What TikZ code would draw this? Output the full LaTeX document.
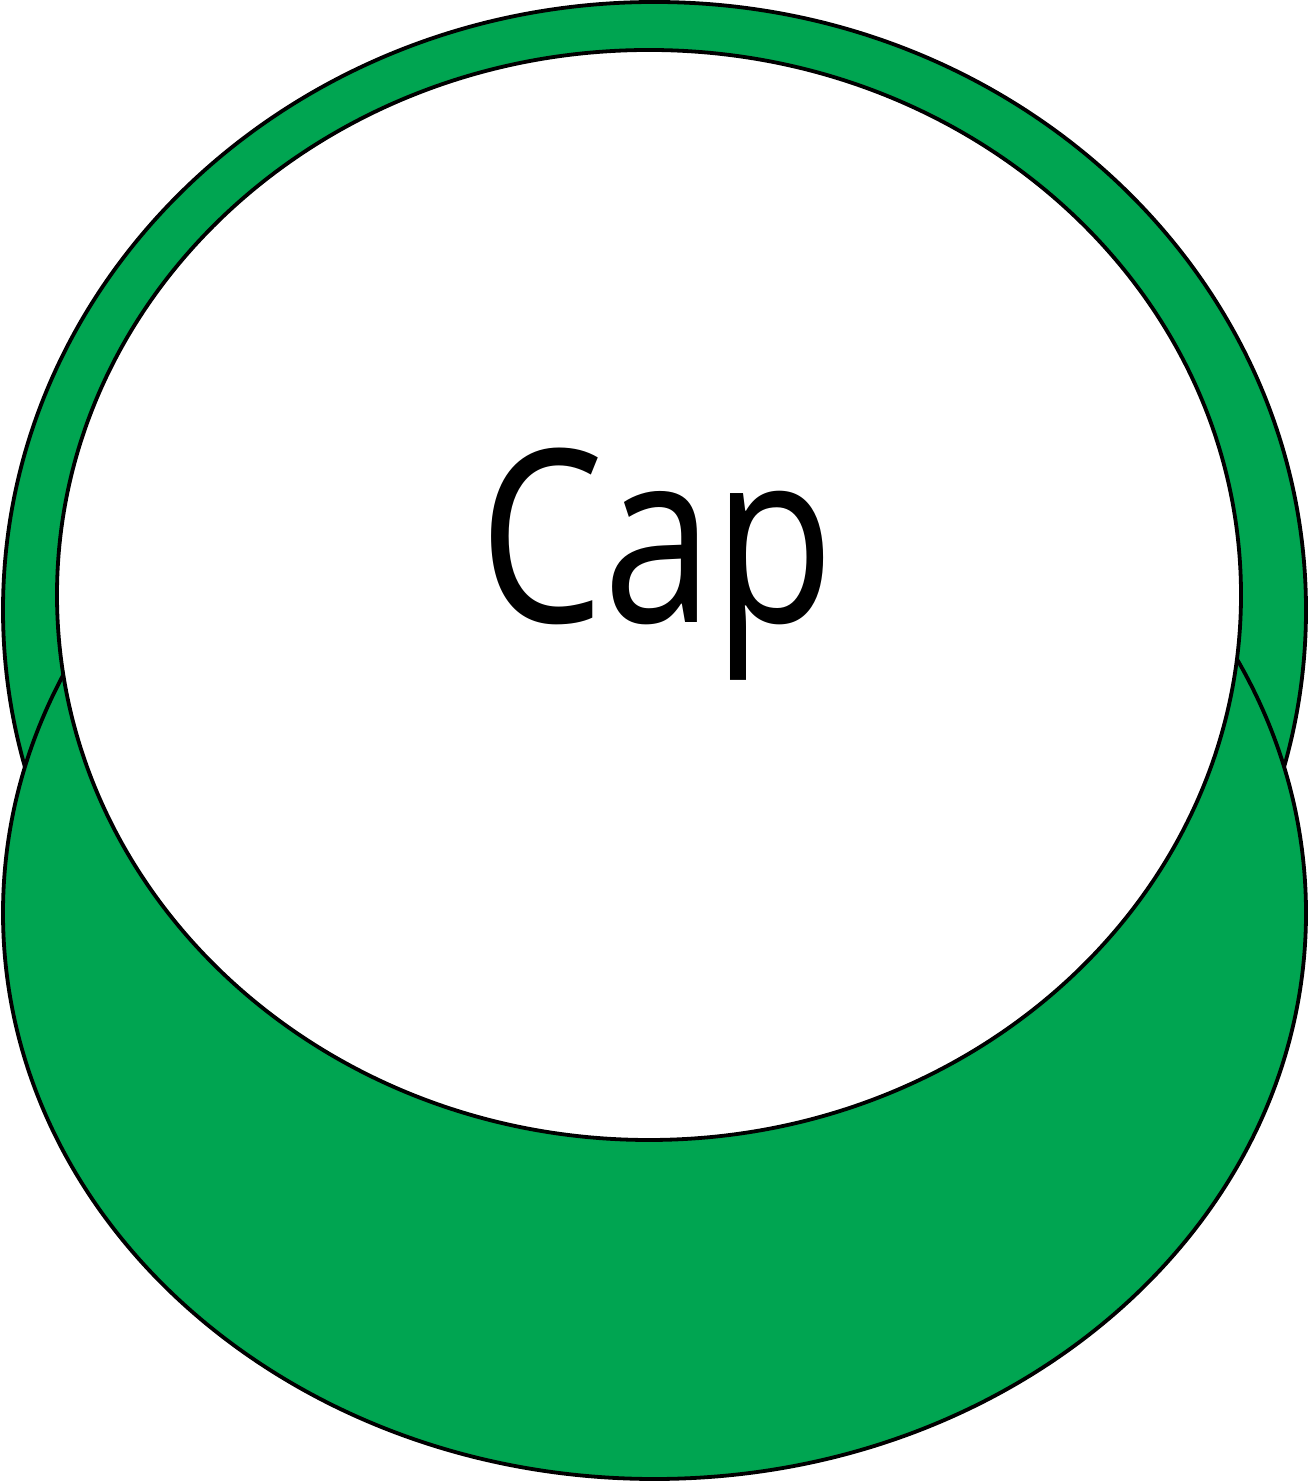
\documentclass[tikz,border=0pt]{standalone}
\usepackage{fontspec}
\newfontfamily\capfont{Open Sans}
\definecolor{capgreen}{RGB}{0,165,81}
\tikzset{
  greenpart/.style={fill=capgreen, draw=black, line width=3.8pt},
  whitepart/.style={fill=white, draw=black, line width=3.8pt},
  captext/.style={inner sep=0pt, anchor=base, font=\capfont\fontsize{241}{250}\selectfont}
}
\begin{document}
\begin{tikzpicture}[x=1pt,y=1pt]
\useasboundingbox (0pt,0pt) rectangle (1309pt,1482pt);
% outer rim of the cap (top ellipse)
\path[greenpart] (654.5pt,872pt) ellipse [x radius=651.5pt, y radius=608pt];
% lower body of the cap
\path[greenpart] (654.5pt,569pt) ellipse [x radius=651.5pt, y radius=566pt];
% inner face
\path[whitepart] (649pt,887pt) ellipse [x radius=592pt, y radius=545pt];
% label
\node[captext] (label) at (657pt,859pt) {\scalebox{0.82}[1]{Cap}};
\end{tikzpicture}
\end{document}
